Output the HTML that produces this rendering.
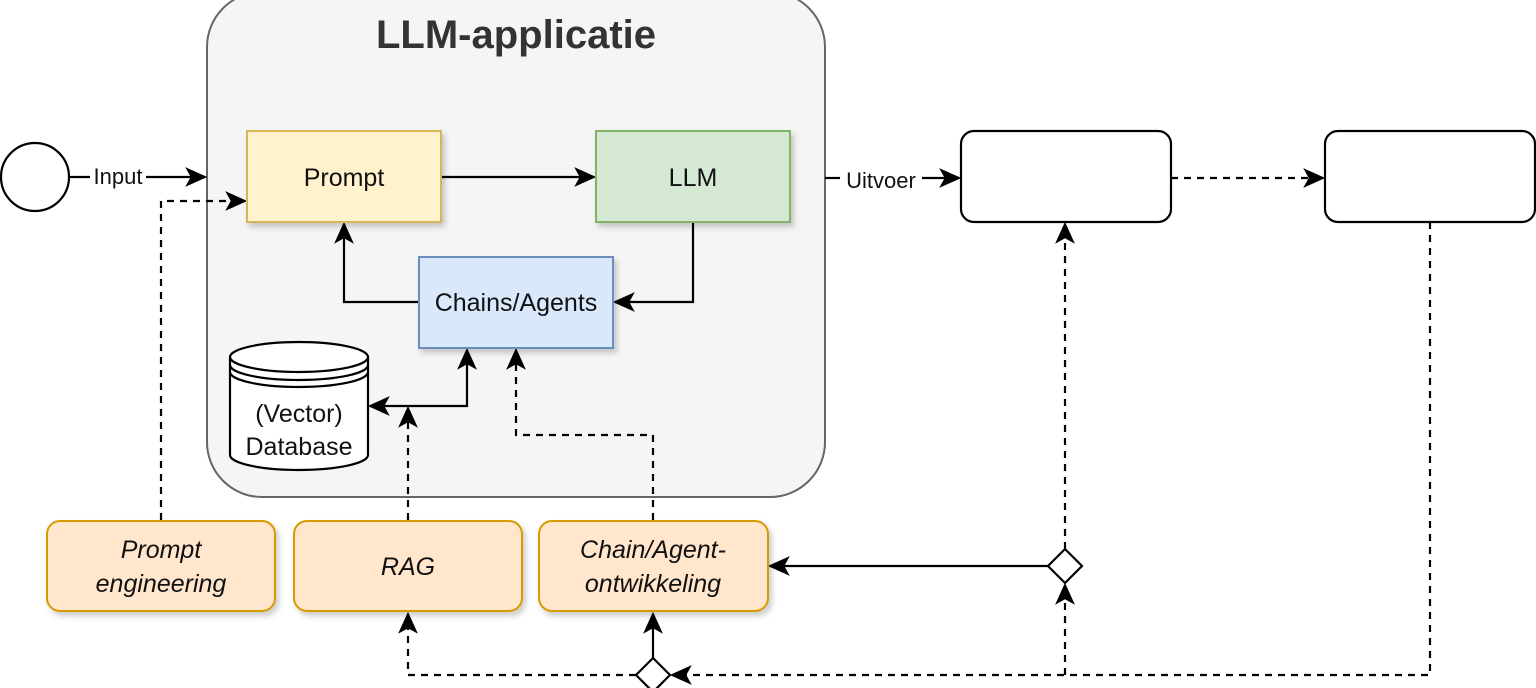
<!DOCTYPE html>
<html><head><style>body{margin:0;background:#fff}svg{display:block}text{font-family:"Liberation Sans",sans-serif;fill:#111}</style></head>
<body>
<svg width="1536" height="688" viewBox="0 0 1536 688" xmlns="http://www.w3.org/2000/svg">
<defs>
<marker id="b" viewBox="0 0 10 10" refX="9" refY="5" markerWidth="22" markerHeight="22" orient="auto-start-reverse" markerUnits="userSpaceOnUse"><path d="M0,0.5 L10,5 L0,9.5 L2.5,5z" fill="#000"/></marker>
<filter id="s" x="-10%" y="-10%" width="130%" height="140%"><feDropShadow dx="3" dy="4" stdDeviation="3" flood-opacity="0.2"/></filter>
</defs>
<rect x="207" y="-8" width="618" height="505" rx="55" fill="#f5f5f5" stroke="#666" stroke-width="2"/>
<text x="516" y="48" font-size="40" font-weight="bold" text-anchor="middle" style="fill:#333">LLM-applicatie</text>
<g stroke="#000" stroke-width="2.2" fill="none">
<circle cx="35" cy="177" r="34" fill="#fff"/>
<line x1="70" y1="177" x2="90" y2="177"/>
<line x1="146" y1="177" x2="205" y2="177" marker-end="url(#b)"/>
<line x1="441" y1="177" x2="594" y2="177" marker-end="url(#b)"/>
<polyline points="693,222 693,302 615,302" marker-end="url(#b)"/>
<polyline points="419,302 344,302 344,224" marker-end="url(#b)"/>
<polyline points="370,406 467,406 467,350" marker-start="url(#b)" marker-end="url(#b)"/>
<polyline points="408,520 408,408" stroke-dasharray="7,6" marker-end="url(#b)"/>
<polyline points="653,520 653,435 516,435 516,350" stroke-dasharray="7,6" marker-end="url(#b)"/>
<polyline points="161,520 161,201 245,201" stroke-dasharray="7,6" marker-end="url(#b)"/>
<line x1="825" y1="178" x2="840" y2="178"/>
<line x1="922" y1="178" x2="959" y2="178" marker-end="url(#b)"/>
<line x1="1171" y1="178" x2="1323" y2="178" stroke-dasharray="7,6" marker-end="url(#b)"/>
<polyline points="1430,222 1430,675 672,675" stroke-dasharray="7,6" marker-end="url(#b)"/>
<line x1="1065" y1="675" x2="1065" y2="585" stroke-dasharray="7,6" marker-end="url(#b)"/>
<line x1="1065" y1="549" x2="1065" y2="224" stroke-dasharray="7,6" marker-end="url(#b)"/>
<line x1="1048" y1="566" x2="770" y2="566" marker-end="url(#b)"/>
<line x1="653" y1="658" x2="653" y2="614" marker-end="url(#b)"/>
<polyline points="636,675 408,675 408,614" stroke-dasharray="7,6" marker-end="url(#b)"/>
<polygon points="1065,549 1082,566 1065,583 1048,566" fill="#fff"/>
<polygon points="653,658 670,675 653,692 636,675" fill="#fff"/>
</g>
<text x="118" y="184" font-size="22" text-anchor="middle">Input</text>
<text x="881" y="188" font-size="22" text-anchor="middle">Uitvoer</text>
<g filter="url(#s)" stroke-width="2">
<rect x="247" y="131" width="194" height="91" fill="#fff2cc" stroke="#d6b656"/>
<rect x="596" y="131" width="194" height="91" fill="#d5e8d4" stroke="#82b366"/>
<rect x="419" y="257" width="194" height="91" fill="#dae8fc" stroke="#6c8ebf"/>
<rect x="47" y="521" width="228" height="90" rx="13" fill="#ffe6cc" stroke="#d79b00"/>
<rect x="294" y="521" width="228" height="90" rx="13" fill="#ffe6cc" stroke="#d79b00"/>
<rect x="539" y="521" width="229" height="90" rx="13" fill="#ffe6cc" stroke="#d79b00"/>
</g>
<rect x="961" y="131" width="210" height="91" rx="13" fill="#fff" stroke="#000" stroke-width="2.2"/>
<rect x="1325" y="131" width="210" height="91" rx="13" fill="#fff" stroke="#000" stroke-width="2.2"/>
<g stroke="#000" stroke-width="2.2" fill="#fff">
<path d="M230,357 L230,455 A69,15 0 0 0 368,455 L368,357"/>
<ellipse cx="299" cy="357" rx="69" ry="15"/>
<path d="M230,365 A69,15 0 0 0 368,365 M230,372 A69,15 0 0 0 368,372" fill="none"/>
</g>
<g font-size="25" text-anchor="middle">
<text x="344" y="186">Prompt</text>
<text x="693" y="186">LLM</text>
<text x="516" y="311">Chains/Agents</text>
<text x="299" y="422">(Vector)</text>
<text x="299" y="455">Database</text>
</g>
<g font-size="25" text-anchor="middle" font-style="italic">
<text x="161" y="558">Prompt</text>
<text x="161" y="592">engineering</text>
<text x="408" y="575">RAG</text>
<text x="653" y="558">Chain/Agent-</text>
<text x="653" y="592">ontwikkeling</text>
</g>
</svg>
</body></html>
